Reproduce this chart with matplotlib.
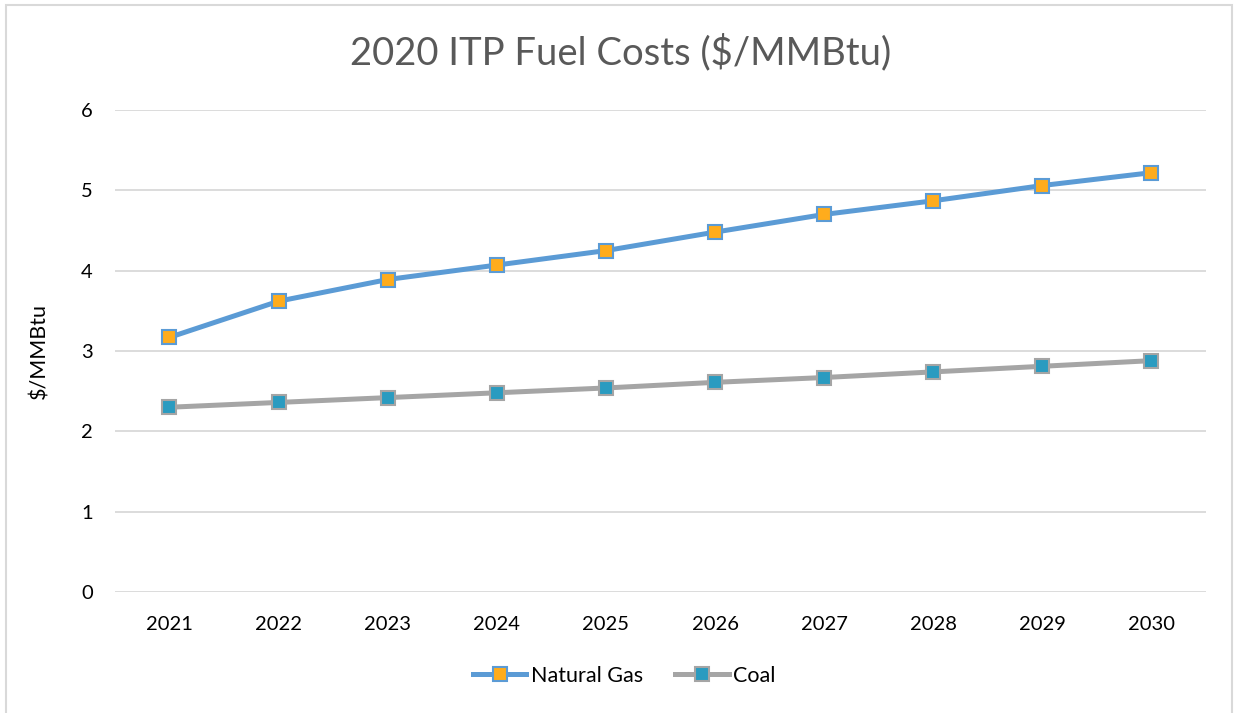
import matplotlib.pyplot as plt
from matplotlib.patches import Rectangle

plt.rcParams['font.family'] = ['Lato', 'DejaVu Sans']

years = ['2021', '2022', '2023', '2024', '2025', '2026', '2027', '2028', '2029', '2030']
natural_gas = [3.17, 3.62, 3.89, 4.07, 4.25, 4.48, 4.70, 4.87, 5.06, 5.22]
coal = [2.30, 2.36, 2.42, 2.48, 2.54, 2.61, 2.67, 2.74, 2.81, 2.88]

fig = plt.figure(figsize=(12.36, 7.13), dpi=100)
ax = fig.add_axes([0.093, 0.1697, 0.8827, 0.676])

x = range(len(years))
# series lines with square markers
ax.plot(x, natural_gas, color='#5B9BD5', lw=3.6, marker='s', ms=10,
        mfc='#FFAC1C', mec='#5B9BD5', mew=1.5, label='Natural Gas')
ax.plot(x, coal, color='#A5A5A5', lw=3.6, marker='s', ms=10,
        mfc='#2A9BC0', mec='#A5A5A5', mew=1.5, label='Coal')

ax.set_xlim(-0.5, len(years) - 0.5)
ax.set_ylim(0, 6)
ax.set_xticks(list(x))
ax.set_xticklabels(years)
ax.set_yticks(range(7))
ax.grid(axis='y', color='#D9D9D9', lw=1.3)
ax.set_axisbelow(True)
for s in ax.spines.values():
    s.set_visible(False)
ax.tick_params(axis='x', length=0, labelsize=14.5, colors='black', pad=17)
ax.tick_params(axis='y', length=0, labelsize=14.5, colors='black', pad=16)
ax.set_ylabel('$/MMBtu', fontsize=15.5, labelpad=23)

fig.text(0.502, 0.927, '2020 ITP Fuel Costs ($/MMBtu)', ha='center', va='center',
         fontsize=27.5, color='#595959')

fig.legend(*ax.get_legend_handles_labels(), loc='center',
           bbox_to_anchor=(0.505, 1 - 676 / 713), ncol=2, frameon=False,
           fontsize=15.5, handlelength=2.5, columnspacing=1.5, handletextpad=0.2)

# chart border
fig.patches.append(Rectangle((6 / 1236, -0.01), 1226 / 1236, 1 - 5 / 713 + 0.01,
                             transform=fig.transFigure, fill=False,
                             ec='#D9D9D9', lw=1.5))

plt.savefig('out.png', dpi=100)
